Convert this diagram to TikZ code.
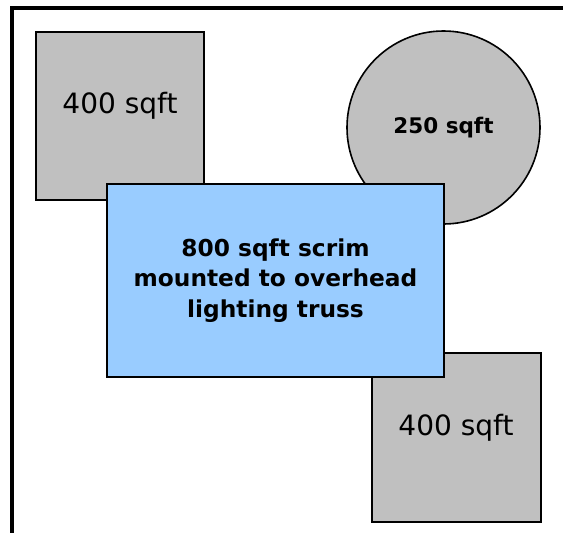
\documentclass[tikz,border=0pt]{standalone}
\usepackage{fontspec}
\setmainfont{DejaVu Sans}
\usepackage{tikz}

\definecolor{areagray}{HTML}{C0C0C0}
\definecolor{scrimblue}{HTML}{99CCFF}

\begin{document}
\begin{tikzpicture}[x=1pt, y=-1pt,
    area/.style={draw, fill=areagray, line width=2pt, minimum size=168pt, inner sep=0pt},
    arealabel/.style={anchor=base, font=\fontsize{28}{32}\selectfont}]
   \useasboundingbox (0,0) rectangle (563,533);
   \draw[line width=3.2pt] (12,533) |- (563,8);

   \node[area] (sq1) at (120,116) {};
   \node[arealabel] (sq1txt) at (120,113) {400 sqft};
    \node[draw, circle, fill=areagray, line width=1.6pt, minimum size=193pt, inner sep=0pt,
          font=\bfseries\fontsize{21.5}{25}\selectfont] (spot) at (443.5,127.5) {250 sqft};

        \node[area, minimum size=169pt] (sq2) at (456,437.5) {};
    \node[arealabel] (sq2txt) at (456,435) {400 sqft};

    \node[draw, fill=scrimblue, line width=1.6pt, minimum width=337pt, minimum height=193pt,
          align=center, font=\bfseries\fontsize{23.3}{30.5}\selectfont] (scrim) at (275.5,280.5)
          {800 sqft scrim\\mounted to overhead\\lighting truss};


\end{tikzpicture}
\end{document}
